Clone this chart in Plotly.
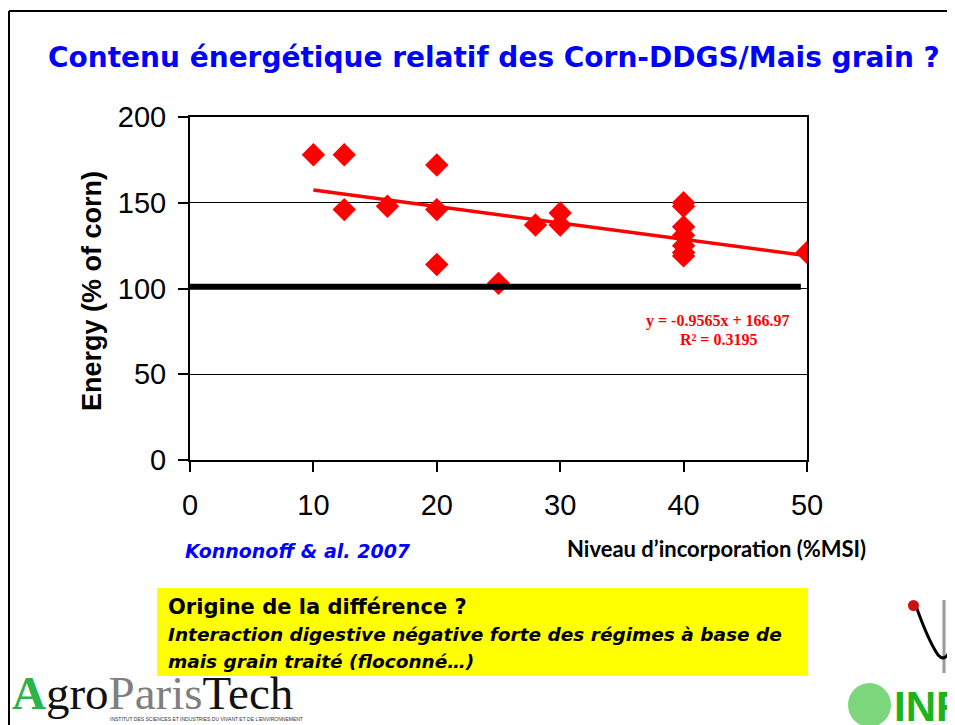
import plotly.graph_objects as go

# ---------------- data ----------------
incorporation = [10, 12.5, 12.5, 16, 20, 20, 20, 25, 28, 30, 30,
                 40, 40, 40, 40, 40, 40, 40, 50]
energy = [178, 178, 146, 148, 172, 146, 114, 103, 137, 144, 137,
          150, 148, 136, 131, 125, 121, 119, 121]
trend_slope = -0.9565
trend_intercept = 166.97
trend_x = [10, 50]
trend_y = [trend_slope * v + trend_intercept for v in trend_x]
ref_x = [0, 49.5]
ref_y = [101, 101]
x_ticks = [0, 10, 20, 30, 40, 50]
y_ticks = [0, 50, 100, 150, 200]

# ---------------- layout helpers ----------------
OFF = 8  # default page body margin
W, H = 955 - OFF, 725 - OFF
L, R, T, B = 190, 807, 117, 460


def px(x):
    return (x - L) / (R - L)


def py(y):
    return (B - y) / (B - T)


fig = go.Figure()
fig.add_trace(go.Scatter(x=incorporation, y=energy, mode="markers",
                         marker=dict(symbol="diamond", size=18, color="#FF0000",
                                     line=dict(width=0)),
                         hoverinfo="skip", showlegend=False))
fig.add_trace(go.Scatter(x=trend_x, y=trend_y, mode="lines",
                         line=dict(color="#FF0000", width=3.5),
                         hoverinfo="skip", showlegend=False))
fig.add_trace(go.Scatter(x=ref_x, y=ref_y, mode="lines",
                         line=dict(color="#000000", width=6),
                         hoverinfo="skip", showlegend=False))

tickfont = dict(family="Liberation Sans, Arial, sans-serif", size=29, color="#000")

fig.update_layout(
    width=W, height=H,
    margin=dict(l=L - OFF, r=955 - R, t=T - OFF, b=(OFF + H) - B, pad=0),
    paper_bgcolor="white", plot_bgcolor="white",
    showlegend=False,
    xaxis=dict(range=[0, 50], tickvals=x_ticks, showgrid=False, zeroline=False,
               showline=True, linecolor="black", linewidth=2, mirror=True,
               ticks="outside", ticklen=10, tickwidth=1.5, tickcolor="black",
               tickfont=tickfont, ticklabelstandoff=8),
    yaxis=dict(range=[0, 200], tickvals=y_ticks, showgrid=True, gridcolor="black",
               gridwidth=1, zeroline=False,
               showline=True, linecolor="black", linewidth=2, mirror=True,
               ticks="outside", ticklen=10, tickwidth=1.5, tickcolor="black",
               tickfont=tickfont, ticklabelstandoff=6),
)

ann = []
# title
ann.append(dict(text="<b>Contenu énergétique relatif des Corn-DDGS/Mais grain ?</b>",
                x=px(494), y=py(57), xanchor="center", yanchor="middle",
                font=dict(family="DejaVu Sans, sans-serif", size=28, color="#0000FF")))
# y axis title
ann.append(dict(text="<b>Energy (% of corn)</b>", textangle=-90,
                x=px(92), y=py(291), xanchor="center", yanchor="middle",
                font=dict(family="Liberation Sans, Arial, sans-serif", size=27, color="#000")))
# equation
ann.append(dict(text="<b>y = -0.9565x + 166.97</b>", x=px(718), y=py(321),
                xanchor="center", yanchor="middle",
                font=dict(family="Liberation Serif, serif", size=16, color="#FF0000")))
ann.append(dict(text="<b>R² = 0.3195</b>", x=px(718), y=py(339),
                xanchor="center", yanchor="middle",
                font=dict(family="Liberation Serif, serif", size=16, color="#FF0000")))
# source
ann.append(dict(text="<b><i>Konnonoff &amp; al. 2007</i></b>", x=px(183), y=py(551),
                xanchor="left", yanchor="middle",
                font=dict(family="DejaVu Sans, sans-serif", size=19, color="#0000FF")))
# x axis title
ann.append(dict(text="<b>Niveau d’incorporation (%MSI)</b>", x=px(868), y=py(548),
                xanchor="right", yanchor="middle",
                font=dict(family="Lato, sans-serif", size=22, color="#000")))
# yellow box texts
ann.append(dict(text="<b>Origine de la différence ?</b>", x=px(166), y=py(607),
                xanchor="left", yanchor="middle",
                font=dict(family="DejaVu Sans, sans-serif", size=21, color="#000")))
ann.append(dict(text="<b><i>Interaction digestive négative forte des régimes à base de</i></b>",
                x=px(166), y=py(634), xanchor="left", yanchor="middle",
                font=dict(family="DejaVu Sans, sans-serif", size=18.5, color="#000")))
ann.append(dict(text="<b><i>mais grain traité (floconné…)</i></b>",
                x=px(166), y=py(661), xanchor="left", yanchor="middle",
                font=dict(family="DejaVu Sans, sans-serif", size=18.5, color="#000")))
# AgroParisTech logo text
ann.append(dict(text='<span style="color:#2DB34A"><b>A</b></span>gro'
                     '<span style="color:#7F7F7F">Paris</span>Tech',
                x=px(10), y=py(693), xanchor="left", yanchor="middle",
                font=dict(family="Liberation Serif, serif", size=47, color="#111")))
ann.append(dict(text="INSTITUT DES SCIENCES ET INDUSTRIES DU VIVANT ET DE L’ENVIRONNEMENT",
                x=px(108), y=py(719), xanchor="left", yanchor="middle",
                font=dict(family="Liberation Sans, sans-serif", size=5, color="#333")))
# INRA text
ann.append(dict(text="<b>INRA</b>", x=px(892), y=py(706), xanchor="left", yanchor="middle",
                font=dict(family="Liberation Sans, sans-serif", size=42, color="#1DB31D")))

for a in ann:
    a.update(xref="paper", yref="paper", showarrow=False)
fig.update_layout(annotations=ann)

shapes = []
# slide border
shapes.append(dict(type="line", x0=px(9), x1=px(955), y0=py(11), y1=py(11),
                   line=dict(color="black", width=2)))
shapes.append(dict(type="line", x0=px(9), x1=px(9), y0=py(11), y1=py(725),
                   line=dict(color="black", width=2)))
# yellow box
shapes.append(dict(type="rect", x0=px(157), x1=px(808), y0=py(588), y1=py(676),
                   fillcolor="#FFFF00", line=dict(width=0), layer="below"))
# INRA disc
shapes.append(dict(type="circle", x0=px(848), x1=px(891), y0=py(683), y1=py(727),
                   fillcolor="#7CD67C", line=dict(width=0)))
# emblem (simplified)
shapes.append(dict(type="line", x0=px(944), x1=px(944), y0=py(600), y1=py(673),
                   line=dict(color="#999999", width=3)))
shapes.append(dict(type="path",
                   path=f"M {px(916)} {py(606)} Q {px(928)} {py(640)} {px(938)} {py(655)}"
                        f" Q {px(946)} {py(664)} {px(952)} {py(645)}",
                   line=dict(color="black", width=3)))
shapes.append(dict(type="circle", x0=px(908), x1=px(919), y0=py(600), y1=py(611),
                   fillcolor="#CC1111", line=dict(width=0)))
for s in shapes:
    s.update(xref="paper", yref="paper")
fig.update_layout(shapes=shapes)

fig.write_html("out.html")
